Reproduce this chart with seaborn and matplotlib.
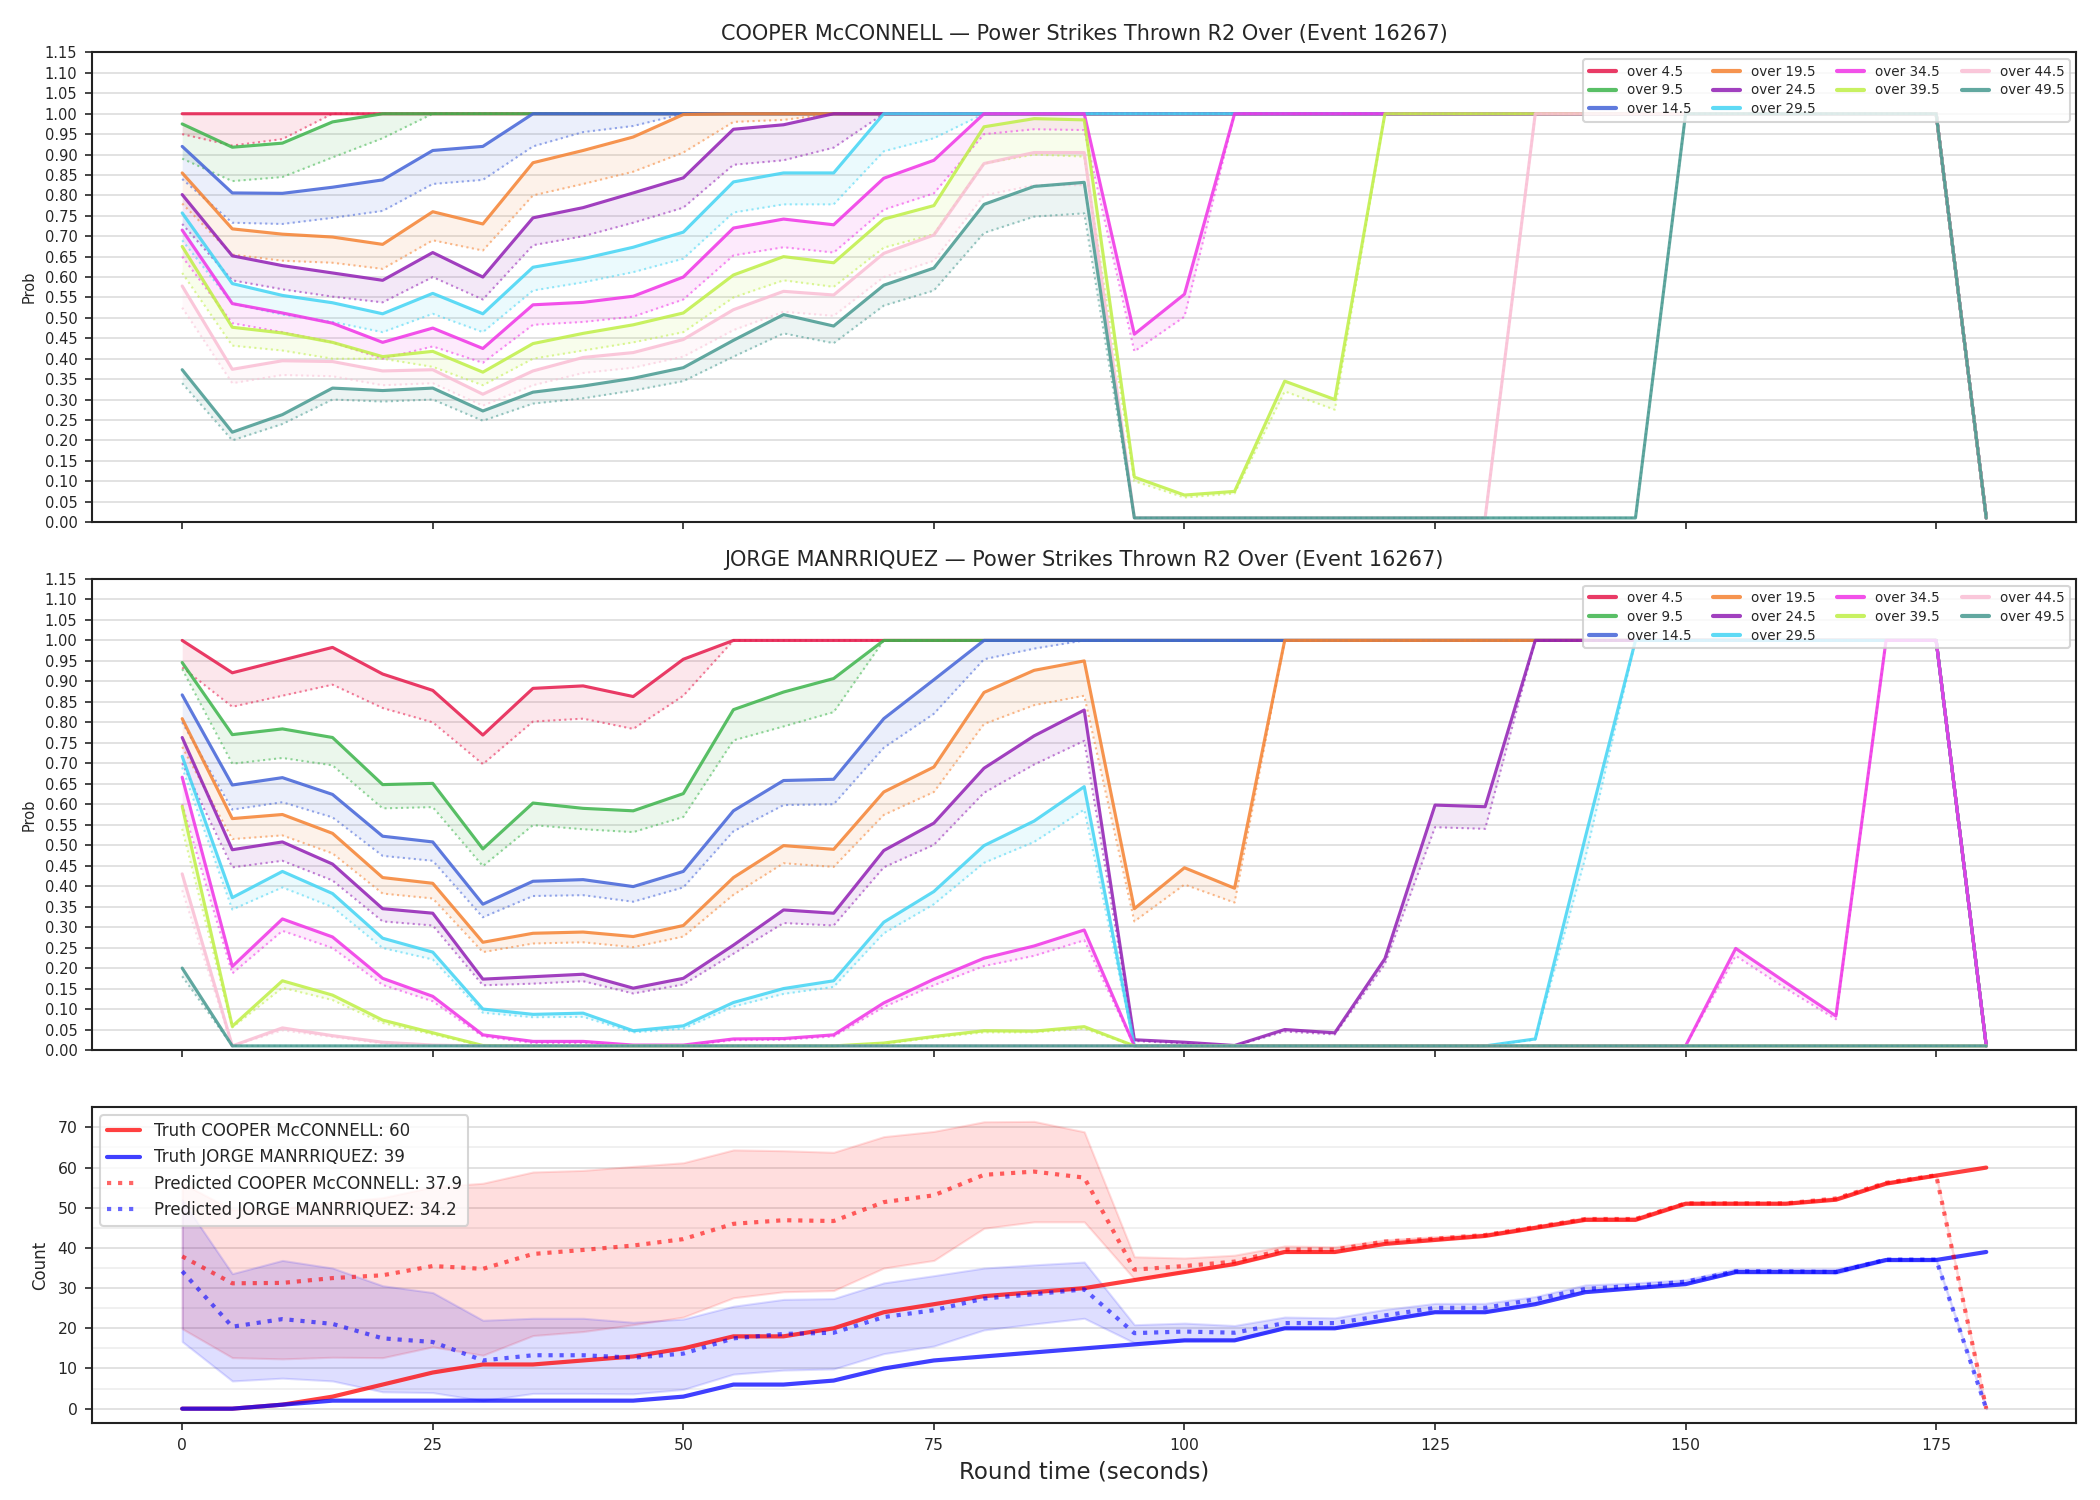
import matplotlib
matplotlib.use("Agg")
import matplotlib.pyplot as plt
import seaborn as sns
from matplotlib.ticker import MultipleLocator, FormatStrFormatter

sns.set_style("ticks")
plt.rcParams['font.family'] = ['DejaVu Sans']

# round time (seconds)
times = [0, 5, 10, 15, 20, 25, 30, 35, 40, 45, 50, 55, 60, 65, 70, 75, 80, 85, 90,
         95, 100, 105, 110, 115, 120, 125, 130, 135, 140, 145, 150, 155, 160, 165, 170, 175, 180]

lines = [4.5, 9.5, 14.5, 19.5, 24.5, 29.5, 34.5, 39.5, 44.5, 49.5]
colors = ['#e6194b', '#3cb44b', '#4363d8', '#f58231', '#911eb4',
          '#42d4f4', '#f032e6', '#bfef45', '#fabed4', '#469990']

# COOPER McCONNELL, live probabilities (solid)
cooper_live = [
    [1.0, 1.0, 1.0, 1.0, 1.0, 1.0, 1.0, 1.0, 1.0, 1.0, 1.0, 1.0, 1.0, 1.0, 1.0, 1.0, 1.0, 1.0, 1.0,
     1.0, 1.0, 1.0, 1.0, 1.0, 1.0, 1.0, 1.0, 1.0, 1.0, 1.0, 1.0, 1.0, 1.0, 1.0, 1.0, 1.0, 0.01],
    [0.975, 0.918, 0.928, 0.98, 1.0, 1.0, 1.0, 1.0, 1.0, 1.0, 1.0, 1.0, 1.0, 1.0, 1.0, 1.0, 1.0, 1.0, 1.0,
     1.0, 1.0, 1.0, 1.0, 1.0, 1.0, 1.0, 1.0, 1.0, 1.0, 1.0, 1.0, 1.0, 1.0, 1.0, 1.0, 1.0, 0.01],
    [0.92, 0.806, 0.805, 0.82, 0.838, 0.91, 0.92, 1.0, 1.0, 1.0, 1.0, 1.0, 1.0, 1.0, 1.0, 1.0, 1.0, 1.0, 1.0,
     1.0, 1.0, 1.0, 1.0, 1.0, 1.0, 1.0, 1.0, 1.0, 1.0, 1.0, 1.0, 1.0, 1.0, 1.0, 1.0, 1.0, 0.01],
    [0.855, 0.718, 0.705, 0.698, 0.68, 0.76, 0.73, 0.88, 0.91, 0.943, 0.998, 1.0, 1.0, 1.0, 1.0, 1.0, 1.0, 1.0, 1.0,
     1.0, 1.0, 1.0, 1.0, 1.0, 1.0, 1.0, 1.0, 1.0, 1.0, 1.0, 1.0, 1.0, 1.0, 1.0, 1.0, 1.0, 0.01],
    [0.802, 0.652, 0.628, 0.61, 0.592, 0.66, 0.60, 0.745, 0.77, 0.806, 0.843, 0.962, 0.973, 1.0, 1.0, 1.0, 1.0, 1.0, 1.0,
     1.0, 1.0, 1.0, 1.0, 1.0, 1.0, 1.0, 1.0, 1.0, 1.0, 1.0, 1.0, 1.0, 1.0, 1.0, 1.0, 1.0, 0.01],
    [0.757, 0.584, 0.555, 0.537, 0.51, 0.56, 0.51, 0.624, 0.645, 0.673, 0.71, 0.833, 0.855, 0.855, 1.0, 1.0, 1.0, 1.0, 1.0,
     1.0, 1.0, 1.0, 1.0, 1.0, 1.0, 1.0, 1.0, 1.0, 1.0, 1.0, 1.0, 1.0, 1.0, 1.0, 1.0, 1.0, 0.01],
    [0.715, 0.535, 0.512, 0.487, 0.44, 0.475, 0.425, 0.532, 0.538, 0.553, 0.60, 0.72, 0.742, 0.728, 0.842, 0.886, 1.0, 1.0, 1.0,
     0.46, 0.558, 1.0, 1.0, 1.0, 1.0, 1.0, 1.0, 1.0, 1.0, 1.0, 1.0, 1.0, 1.0, 1.0, 1.0, 1.0, 0.01],
    [0.675, 0.477, 0.463, 0.44, 0.405, 0.418, 0.367, 0.437, 0.462, 0.483, 0.512, 0.605, 0.65, 0.635, 0.742, 0.775, 0.968, 0.988, 0.985,
     0.11, 0.066, 0.075, 0.345, 0.30, 1.0, 1.0, 1.0, 1.0, 1.0, 1.0, 1.0, 1.0, 1.0, 1.0, 1.0, 1.0, 0.01],
    [0.578, 0.374, 0.395, 0.393, 0.37, 0.373, 0.313, 0.37, 0.403, 0.415, 0.447, 0.52, 0.565, 0.556, 0.658, 0.703, 0.878, 0.905, 0.905,
     0.01, 0.01, 0.01, 0.01, 0.01, 0.01, 0.01, 0.01, 1.0, 1.0, 1.0, 1.0, 1.0, 1.0, 1.0, 1.0, 1.0, 0.01],
    [0.373, 0.22, 0.263, 0.328, 0.322, 0.328, 0.272, 0.318, 0.333, 0.352, 0.378, 0.445, 0.508, 0.48, 0.58, 0.622, 0.778, 0.822, 0.832,
     0.01, 0.01, 0.01, 0.01, 0.01, 0.01, 0.01, 0.01, 0.01, 0.01, 0.01, 1.0, 1.0, 1.0, 1.0, 1.0, 1.0, 0.01],
]

# COOPER McCONNELL, pre-fight probabilities (dotted)
cooper_pre = [
    [0.95, 0.922, 0.938, 1.0, 1.0, 1.0, 1.0, 1.0, 1.0, 1.0, 1.0, 1.0, 1.0, 1.0, 1.0, 1.0, 1.0, 1.0, 1.0,
     1.0, 1.0, 1.0, 1.0, 1.0, 1.0, 1.0, 1.0, 1.0, 1.0, 1.0, 1.0, 1.0, 1.0, 1.0, 1.0, 1.0, 0.01],
    [0.89, 0.835, 0.845, 0.893, 0.94, 1.0, 1.0, 1.0, 1.0, 1.0, 1.0, 1.0, 1.0, 1.0, 1.0, 1.0, 1.0, 1.0, 1.0,
     1.0, 1.0, 1.0, 1.0, 1.0, 1.0, 1.0, 1.0, 1.0, 1.0, 1.0, 1.0, 1.0, 1.0, 1.0, 1.0, 1.0, 0.01],
    [0.84, 0.733, 0.73, 0.745, 0.762, 0.828, 0.838, 0.92, 0.955, 0.97, 1.0, 1.0, 1.0, 1.0, 1.0, 1.0, 1.0, 1.0, 1.0,
     1.0, 1.0, 1.0, 1.0, 1.0, 1.0, 1.0, 1.0, 1.0, 1.0, 1.0, 1.0, 1.0, 1.0, 1.0, 1.0, 1.0, 0.01],
    [0.78, 0.655, 0.64, 0.635, 0.62, 0.69, 0.665, 0.80, 0.828, 0.858, 0.905, 0.98, 0.985, 1.0, 1.0, 1.0, 1.0, 1.0, 1.0,
     1.0, 1.0, 1.0, 1.0, 1.0, 1.0, 1.0, 1.0, 1.0, 1.0, 1.0, 1.0, 1.0, 1.0, 1.0, 1.0, 1.0, 0.01],
    [0.73, 0.592, 0.57, 0.552, 0.538, 0.60, 0.545, 0.678, 0.70, 0.733, 0.77, 0.875, 0.886, 0.917, 1.0, 1.0, 1.0, 1.0, 1.0,
     1.0, 1.0, 1.0, 1.0, 1.0, 1.0, 1.0, 1.0, 1.0, 1.0, 1.0, 1.0, 1.0, 1.0, 1.0, 1.0, 1.0, 0.01],
    [0.69, 0.535, 0.508, 0.49, 0.465, 0.51, 0.465, 0.567, 0.587, 0.612, 0.645, 0.758, 0.778, 0.778, 0.908, 0.94, 1.0, 1.0, 1.0,
     1.0, 1.0, 1.0, 1.0, 1.0, 1.0, 1.0, 1.0, 1.0, 1.0, 1.0, 1.0, 1.0, 1.0, 1.0, 1.0, 1.0, 0.01],
    [0.65, 0.487, 0.465, 0.44, 0.40, 0.43, 0.39, 0.483, 0.49, 0.503, 0.545, 0.653, 0.673, 0.66, 0.765, 0.805, 0.95, 0.962, 0.96,
     0.418, 0.503, 1.0, 1.0, 1.0, 1.0, 1.0, 1.0, 1.0, 1.0, 1.0, 1.0, 1.0, 1.0, 1.0, 1.0, 1.0, 0.01],
    [0.61, 0.432, 0.42, 0.40, 0.40, 0.38, 0.335, 0.40, 0.42, 0.44, 0.465, 0.55, 0.592, 0.576, 0.672, 0.705, 0.878, 0.90, 0.895,
     0.10, 0.06, 0.07, 0.32, 0.275, 1.0, 1.0, 1.0, 1.0, 1.0, 1.0, 1.0, 1.0, 1.0, 1.0, 1.0, 1.0, 0.01],
    [0.525, 0.34, 0.36, 0.357, 0.335, 0.34, 0.285, 0.335, 0.365, 0.378, 0.405, 0.47, 0.515, 0.505, 0.60, 0.64, 0.80, 0.825, 0.825,
     0.01, 0.01, 0.01, 0.01, 0.01, 0.01, 0.01, 0.01, 1.0, 1.0, 1.0, 1.0, 1.0, 1.0, 1.0, 1.0, 1.0, 0.01],
    [0.34, 0.20, 0.24, 0.30, 0.295, 0.30, 0.248, 0.29, 0.303, 0.322, 0.345, 0.405, 0.462, 0.438, 0.53, 0.567, 0.708, 0.748, 0.756,
     0.01, 0.01, 0.01, 0.01, 0.01, 0.01, 0.01, 0.01, 0.01, 0.01, 0.01, 1.0, 1.0, 1.0, 1.0, 1.0, 1.0, 0.01],
]

# JORGE MANRRIQUEZ, live probabilities (solid)
jorge_live = [
    [1.0, 0.921, 0.952, 0.983, 0.918, 0.878, 0.769, 0.883, 0.889, 0.863, 0.954, 1.0, 1.0, 1.0, 1.0, 1.0, 1.0, 1.0, 1.0,
     1.0, 1.0, 1.0, 1.0, 1.0, 1.0, 1.0, 1.0, 1.0, 1.0, 1.0, 1.0, 1.0, 1.0, 1.0, 1.0, 1.0, 0.01],
    [0.946, 0.77, 0.784, 0.763, 0.648, 0.651, 0.491, 0.603, 0.59, 0.584, 0.626, 0.831, 0.874, 0.907, 1.0, 1.0, 1.0, 1.0, 1.0,
     1.0, 1.0, 1.0, 1.0, 1.0, 1.0, 1.0, 1.0, 1.0, 1.0, 1.0, 1.0, 1.0, 1.0, 1.0, 1.0, 1.0, 0.01],
    [0.867, 0.647, 0.665, 0.624, 0.522, 0.508, 0.356, 0.412, 0.416, 0.399, 0.436, 0.584, 0.658, 0.661, 0.809, 0.904, 1.0, 1.0, 1.0,
     1.0, 1.0, 1.0, 1.0, 1.0, 1.0, 1.0, 1.0, 1.0, 1.0, 1.0, 1.0, 1.0, 1.0, 1.0, 1.0, 1.0, 0.01],
    [0.809, 0.565, 0.575, 0.529, 0.421, 0.407, 0.263, 0.285, 0.288, 0.277, 0.304, 0.421, 0.499, 0.49, 0.63, 0.691, 0.873, 0.927, 0.95,
     0.345, 0.445, 0.395, 1.0, 1.0, 1.0, 1.0, 1.0, 1.0, 1.0, 1.0, 1.0, 1.0, 1.0, 1.0, 1.0, 1.0, 0.01],
    [0.763, 0.489, 0.508, 0.454, 0.345, 0.334, 0.173, 0.179, 0.185, 0.151, 0.175, 0.256, 0.342, 0.334, 0.487, 0.554, 0.688, 0.767, 0.83,
     0.025, 0.019, 0.011, 0.05, 0.042, 0.223, 0.598, 0.594, 1.0, 1.0, 1.0, 1.0, 1.0, 1.0, 1.0, 1.0, 1.0, 0.01],
    [0.717, 0.372, 0.436, 0.382, 0.273, 0.239, 0.10, 0.087, 0.09, 0.047, 0.059, 0.116, 0.15, 0.169, 0.312, 0.387, 0.499, 0.559, 0.643,
     0.01, 0.01, 0.01, 0.01, 0.01, 0.01, 0.01, 0.01, 0.027, 0.52, 1.0, 1.0, 1.0, 1.0, 1.0, 1.0, 1.0, 0.01],
    [0.666, 0.204, 0.32, 0.276, 0.175, 0.131, 0.037, 0.021, 0.021, 0.012, 0.012, 0.027, 0.028, 0.037, 0.115, 0.173, 0.224, 0.254, 0.293,
     0.01, 0.01, 0.01, 0.01, 0.01, 0.01, 0.01, 0.01, 0.01, 0.01, 0.01, 0.01, 0.248, 0.165, 0.083, 1.0, 1.0, 0.01],
    [0.595, 0.058, 0.169, 0.134, 0.073, 0.042, 0.011, 0.01, 0.01, 0.01, 0.01, 0.01, 0.01, 0.01, 0.017, 0.033, 0.047, 0.046, 0.057,
     0.01, 0.01, 0.01, 0.01, 0.01, 0.01, 0.01, 0.01, 0.01, 0.01, 0.01, 0.01, 0.01, 0.01, 0.01, 0.01, 0.01, 0.01],
    [0.43, 0.01, 0.054, 0.035, 0.019, 0.012, 0.01, 0.01, 0.01, 0.01, 0.01, 0.01, 0.01, 0.01, 0.01, 0.01, 0.01, 0.01, 0.01,
     0.01, 0.01, 0.01, 0.01, 0.01, 0.01, 0.01, 0.01, 0.01, 0.01, 0.01, 0.01, 0.01, 0.01, 0.01, 0.01, 0.01, 0.01],
    [0.20, 0.01, 0.01, 0.01, 0.01, 0.01, 0.01, 0.01, 0.01, 0.01, 0.01, 0.01, 0.01, 0.01, 0.01, 0.01, 0.01, 0.01, 0.01,
     0.01, 0.01, 0.01, 0.01, 0.01, 0.01, 0.01, 0.01, 0.01, 0.01, 0.01, 0.01, 0.01, 0.01, 0.01, 0.01, 0.01, 0.01],
]

# JORGE MANRRIQUEZ, pre-fight probabilities (dotted)
jorge_pre = [
    [0.934, 0.838, 0.865, 0.892, 0.835, 0.80, 0.698, 0.802, 0.809, 0.784, 0.865, 1.0, 1.0, 1.0, 1.0, 1.0, 1.0, 1.0, 1.0,
     1.0, 1.0, 1.0, 1.0, 1.0, 1.0, 1.0, 1.0, 1.0, 1.0, 1.0, 1.0, 1.0, 1.0, 1.0, 1.0, 1.0, 0.01],
    [0.93, 0.699, 0.713, 0.695, 0.59, 0.593, 0.449, 0.549, 0.539, 0.532, 0.569, 0.756, 0.79, 0.825, 1.0, 1.0, 1.0, 1.0, 1.0,
     1.0, 1.0, 1.0, 1.0, 1.0, 1.0, 1.0, 1.0, 1.0, 1.0, 1.0, 1.0, 1.0, 1.0, 1.0, 1.0, 1.0, 0.01],
    [0.80, 0.587, 0.605, 0.568, 0.474, 0.462, 0.324, 0.376, 0.378, 0.362, 0.397, 0.534, 0.598, 0.60, 0.738, 0.821, 0.954, 0.98, 1.0,
     1.0, 1.0, 1.0, 1.0, 1.0, 1.0, 1.0, 1.0, 1.0, 1.0, 1.0, 1.0, 1.0, 1.0, 1.0, 1.0, 1.0, 0.01],
    [0.74, 0.515, 0.524, 0.48, 0.382, 0.37, 0.239, 0.26, 0.263, 0.251, 0.277, 0.379, 0.456, 0.447, 0.574, 0.63, 0.796, 0.842, 0.865,
     0.314, 0.404, 0.36, 1.0, 1.0, 1.0, 1.0, 1.0, 1.0, 1.0, 1.0, 1.0, 1.0, 1.0, 1.0, 1.0, 1.0, 0.01],
    [0.70, 0.446, 0.462, 0.414, 0.314, 0.304, 0.158, 0.162, 0.168, 0.138, 0.16, 0.235, 0.31, 0.304, 0.446, 0.501, 0.628, 0.697, 0.755,
     0.022, 0.016, 0.01, 0.045, 0.038, 0.21, 0.544, 0.54, 1.0, 1.0, 1.0, 1.0, 1.0, 1.0, 1.0, 1.0, 1.0, 0.01],
    [0.69, 0.343, 0.397, 0.349, 0.249, 0.221, 0.091, 0.08, 0.081, 0.043, 0.052, 0.106, 0.137, 0.154, 0.285, 0.356, 0.457, 0.508, 0.587,
     0.01, 0.01, 0.01, 0.01, 0.01, 0.01, 0.01, 0.01, 0.025, 0.47, 1.0, 1.0, 1.0, 1.0, 1.0, 1.0, 1.0, 0.01],
    [0.60, 0.187, 0.291, 0.249, 0.159, 0.119, 0.033, 0.017, 0.017, 0.01, 0.01, 0.024, 0.025, 0.033, 0.105, 0.158, 0.205, 0.23, 0.268,
     0.01, 0.01, 0.01, 0.01, 0.01, 0.01, 0.01, 0.01, 0.01, 0.01, 0.01, 0.01, 0.23, 0.15, 0.075, 1.0, 1.0, 0.01],
    [0.54, 0.055, 0.152, 0.122, 0.066, 0.038, 0.01, 0.01, 0.01, 0.01, 0.01, 0.01, 0.01, 0.01, 0.015, 0.03, 0.043, 0.043, 0.052,
     0.01, 0.01, 0.01, 0.01, 0.01, 0.01, 0.01, 0.01, 0.01, 0.01, 0.01, 0.01, 0.01, 0.01, 0.01, 0.01, 0.01, 0.01],
    [0.39, 0.01, 0.048, 0.032, 0.016, 0.011, 0.01, 0.01, 0.01, 0.01, 0.01, 0.01, 0.01, 0.01, 0.01, 0.01, 0.01, 0.01, 0.01,
     0.01, 0.01, 0.01, 0.01, 0.01, 0.01, 0.01, 0.01, 0.01, 0.01, 0.01, 0.01, 0.01, 0.01, 0.01, 0.01, 0.01, 0.01],
    [0.18, 0.01, 0.01, 0.01, 0.01, 0.01, 0.01, 0.01, 0.01, 0.01, 0.01, 0.01, 0.01, 0.01, 0.01, 0.01, 0.01, 0.01, 0.01,
     0.01, 0.01, 0.01, 0.01, 0.01, 0.01, 0.01, 0.01, 0.01, 0.01, 0.01, 0.01, 0.01, 0.01, 0.01, 0.01, 0.01, 0.01],
]

# strike counts
truth_cooper = [0, 0, 1, 3, 6, 9, 11, 11, 12, 13, 15, 18, 18, 20, 24, 26, 28, 29, 30,
                32, 34, 36, 39, 39, 41, 42, 43, 45, 47, 47, 51, 51, 51, 52, 56, 58, 60]
truth_jorge = [0, 0, 1, 2, 2, 2, 2, 2, 2, 2, 3, 6, 6, 7, 10, 12, 13, 14, 15,
               16, 17, 17, 20, 20, 22, 24, 24, 26, 29, 30, 31, 34, 34, 34, 37, 37, 39]

pred_cooper = [37.9, 31.2, 31.3, 32.5, 33.2, 35.5, 34.8, 38.5, 39.5, 40.6, 42.2, 46.0, 46.9, 46.7, 51.4, 53.1, 58.2, 59.0, 57.5,
               34.6, 35.5, 36.6, 39.6, 39.6, 41.6, 42.3, 43.2, 45.2, 47.2, 47.2, 51.1, 51.1, 51.1, 52.3, 56.2, 58.1, 0.0]
pred_cooper_hi = [56.1, 49.5, 49.8, 51.3, 52.5, 55.2, 56.1, 58.9, 59.3, 60.3, 61.2, 64.4, 64.2, 63.8, 67.7, 69.0, 71.4, 71.5, 68.9,
                  37.8, 37.5, 38.2, 40.5, 40.3, 42.0, 42.8, 43.6, 45.5, 47.6, 47.6, 51.4, 51.4, 51.4, 52.6, 56.5, 58.3, 0.0]
pred_cooper_lo = [19.9, 12.7, 12.4, 12.8, 12.7, 15.4, 13.3, 18.2, 19.2, 20.9, 22.8, 27.6, 29.1, 29.4, 35.0, 36.9, 44.9, 46.5, 46.5,
                  32.3, 34.0, 35.8, 38.8, 38.8, 41.0, 41.8, 42.8, 44.8, 46.8, 46.8, 50.8, 50.8, 50.8, 52.0, 55.9, 57.9, 0.0]

pred_jorge = [34.2, 20.4, 22.3, 21.1, 17.5, 16.6, 12.0, 13.3, 13.3, 12.7, 13.7, 17.5, 18.6, 18.9, 22.8, 24.5, 27.4, 28.5, 29.7,
              18.8, 19.2, 18.9, 21.3, 21.3, 23.2, 25.1, 25.1, 27.2, 29.8, 30.6, 31.6, 34.2, 34.2, 34.0, 37.1, 37.1, 0.0]
pred_jorge_hi = [51.9, 33.6, 36.9, 35.0, 30.6, 28.9, 22.0, 22.5, 22.5, 21.5, 22.3, 25.5, 27.2, 27.4, 31.3, 33.1, 35.0, 35.8, 36.5,
                 20.9, 21.3, 20.7, 22.8, 22.6, 24.7, 26.2, 26.2, 27.9, 30.8, 31.3, 32.1, 34.8, 34.8, 34.8, 37.4, 37.4, 0.0]
pred_jorge_lo = [16.7, 6.9, 7.6, 6.9, 4.2, 4.0, 2.0, 3.8, 3.8, 3.7, 4.8, 8.6, 9.6, 9.9, 13.7, 15.6, 19.6, 21.1, 22.5,
                 16.4, 16.9, 17.0, 20.0, 20.0, 22.0, 24.0, 24.0, 26.3, 29.2, 30.0, 31.0, 33.8, 33.8, 33.6, 36.8, 36.8, 0.0]

fighter1 = "COOPER McCONNELL"
fighter2 = "JORGE MANRRIQUEZ"
market = "Power Strikes Thrown R2 Over (Event 16267)"

fig = plt.figure(figsize=(14, 10), dpi=150)
ax1 = fig.add_axes([0.0438, 0.652, 0.945, 0.313])
ax2 = fig.add_axes([0.0438, 0.300, 0.945, 0.314])
ax3 = fig.add_axes([0.0438, 0.0513, 0.945, 0.2107])


def prob_panel(ax, live, pre, name):
    for k in range(len(lines)):
        col = colors[k]
        ax.fill_between(times, pre[k], live[k], color=col, alpha=0.1, linewidth=0)
        sns.lineplot(x=times, y=live[k], ax=ax, color=col, linewidth=1.5, alpha=0.85,
                     label="over " + str(lines[k]))
        sns.lineplot(x=times, y=pre[k], ax=ax, color=col, linewidth=1.0, alpha=0.55,
                     linestyle=":", label="_nolegend_")
    ax.set_ylim(0, 1.15)
    ax.yaxis.set_major_locator(MultipleLocator(0.05))
    ax.yaxis.set_major_formatter(FormatStrFormatter('%.2f'))
    ax.grid(axis='y', color='#dddddd', linewidth=0.8)
    ax.set_axisbelow(True)
    ax.set_ylabel("Prob", fontsize=7)
    ax.set_title(name + " \u2014 " + market, fontsize=10)
    ax.tick_params(labelsize=7, labelbottom=False)
    leg = ax.legend(loc='upper right', ncol=4, fontsize=6.5, framealpha=0.8,
                    handlelength=2.0, columnspacing=1.6, labelspacing=0.35,
                    borderpad=0.4)
    for h in leg.get_lines():
        h.set_linewidth(2.0)


prob_panel(ax1, cooper_live, cooper_pre, fighter1)
prob_panel(ax2, jorge_live, jorge_pre, fighter2)

# count panel
ax3.fill_between(times, pred_cooper_lo, pred_cooper_hi, color='red', alpha=0.13, linewidth=1)
ax3.fill_between(times, pred_jorge_lo, pred_jorge_hi, color='blue', alpha=0.13, linewidth=1)
sns.lineplot(x=times, y=truth_cooper, ax=ax3, color='red', linewidth=2, alpha=0.75,
             label="Truth " + fighter1 + ": " + str(truth_cooper[-1]))
sns.lineplot(x=times, y=truth_jorge, ax=ax3, color='blue', linewidth=2, alpha=0.75,
             label="Truth " + fighter2 + ": " + str(truth_jorge[-1]))
sns.lineplot(x=times, y=pred_cooper, ax=ax3, color='red', linewidth=2, alpha=0.6, linestyle=':',
             label="Predicted " + fighter1 + ": " + str(pred_cooper[0]))
sns.lineplot(x=times, y=pred_jorge, ax=ax3, color='blue', linewidth=2, alpha=0.6, linestyle=':',
             label="Predicted " + fighter2 + ": " + str(pred_jorge[0]))
ax3.yaxis.set_major_locator(MultipleLocator(10))
ax3.yaxis.set_minor_locator(MultipleLocator(5))
ax3.grid(axis='y', which='major', color='#dddddd', linewidth=0.8)
ax3.grid(axis='y', which='minor', color='#eeeeee', linewidth=0.8)
ax3.tick_params(axis='y', which='minor', left=False)
ax3.set_axisbelow(True)
ax3.set_ylabel("Count", fontsize=8)
ax3.set_xlabel("Round time (seconds)", fontsize=11)
ax3.tick_params(labelsize=7.5)
ax3.legend(loc='upper left', fontsize=8, framealpha=0.8)

for ax in (ax1, ax2, ax3):
    ax.set_xlim(-9, 189)
    ax.set_xticks([0, 25, 50, 75, 100, 125, 150, 175])
    for s in ax.spines.values():
        s.set_linewidth(1.0)
        s.set_color('#222222')

fig.savefig("out.png", dpi=150)
